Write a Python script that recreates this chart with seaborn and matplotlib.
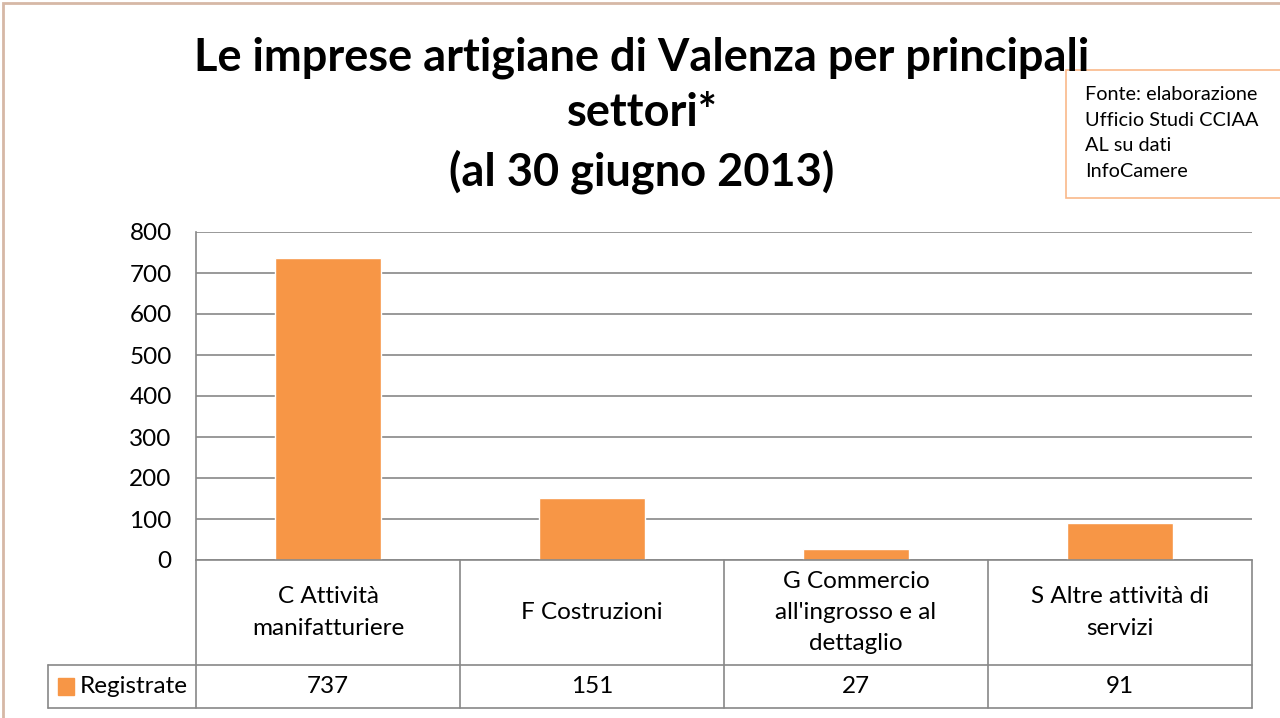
import matplotlib
matplotlib.use('Agg')
import matplotlib.pyplot as plt
import matplotlib.transforms as mtransforms
from matplotlib.patches import Rectangle
import seaborn as sns

# Dati (al 30 giugno 2013)
categorie = ["C Attività manifatturiere", "F Costruzioni",
             "G Commercio all'ingrosso e al dettaglio", "S Altre attività di servizi"]
etichette = ["C Attività\nmanifatturiere", "F Costruzioni",
             "G Commercio\nall'ingrosso e al\ndettaglio", "S Altre attività di\nservizi"]
registrate = [737, 151, 27, 91]
y_ticks = [0, 100, 200, 300, 400, 500, 600, 700, 800]
serie = "Registrate"

ARANCIO = '#F79646'
GRIGIO = '#888888'
FS = 17.5

sns.set_style('white')
plt.rcParams['font.family'] = ['Lato', 'DejaVu Sans']
plt.rcParams['text.color'] = 'black'
plt.rcParams['ytick.color'] = 'black'

fig = plt.figure(figsize=(12.8, 7.18), dpi=100)
ax = fig.add_axes([196 / 1280, 1 - 560 / 718, 1056 / 1280, 328 / 718])

sns.barplot(x=categorie, y=registrate, color=ARANCIO, width=0.4, ax=ax,
            saturation=1)

ax.set_ylim(0, 800)
ax.set_xlim(-0.5, 3.5)
ax.set_yticks(y_ticks)
ax.tick_params(axis='y', length=0, pad=17.5, labelsize=FS, labelcolor='black')
ax.tick_params(axis='x', length=0, labelbottom=False)
ax.yaxis.grid(True, color=GRIGIO, lw=1.2)
ax.set_axisbelow(True)
for s in ['top', 'right']:
    ax.spines[s].set_visible(False)
for s in ['left', 'bottom']:
    ax.spines[s].set_color(GRIGIO)
    ax.spines[s].set_linewidth(1.2)
ax.set_xlabel('')
ax.set_ylabel('')

# tabella dati sotto il grafico
tr = mtransforms.blended_transform_factory(ax.transData, ax.transAxes)
y_cat = -105 / 328
y_val = -148 / 328
x_leg = -148 / 1056
kw = dict(color=GRIGIO, lw=1.2, clip_on=False)
for xb in [-0.5, 0.5, 1.5, 2.5, 3.5]:
    ax.plot([xb, xb], [0, y_val], transform=tr, **kw)
ax.plot([x_leg, 1], [y_cat, y_cat], transform=ax.transAxes, **kw)
ax.plot([x_leg, 1], [y_val, y_val], transform=ax.transAxes, **kw)
ax.plot([x_leg, x_leg], [y_cat, y_val], transform=ax.transAxes, **kw)

for i, (lab, v) in enumerate(zip(etichette, registrate)):
    ax.text(i, y_cat / 2, lab, transform=tr, ha='center', va='center',
            fontsize=FS, linespacing=1.6)
    ax.text(i, (y_cat + y_val) / 2, str(v), transform=tr, ha='center',
            va='center', fontsize=FS)

ax.add_patch(Rectangle((-138 / 1056, (y_cat + y_val) / 2 - 0.025), 0.0155, 0.05,
                       transform=ax.transAxes, color=ARANCIO, clip_on=False))
ax.text(-116 / 1056, (y_cat + y_val) / 2, serie, transform=ax.transAxes,
        ha='left', va='center', fontsize=FS)

# titolo
fig.text(0.5015, 1 - 115 / 718,
         "Le imprese artigiane di Valenza per principali\nsettori*\n(al 30 giugno 2013)",
         ha='center', va='center', fontsize=32.5, fontweight='bold',
         linespacing=1.40)

# riquadro fonte
fig.patches.append(Rectangle((1066 / 1280, 1 - 198 / 718), 0.2, 128 / 718,
                             transform=fig.transFigure, facecolor='white',
                             edgecolor='#F9B98A', lw=1.2))
fig.text(1085 / 1280, 1 - 133 / 718,
         "Fonte: elaborazione\nUfficio Studi CCIAA\nAL su dati\nInfoCamere",
         ha='left', va='center', fontsize=14.3, linespacing=1.62)

# bordo esterno
fig.patches.append(Rectangle((3 / 1280, -0.1), 1.2, 1 - 3 / 718 + 0.1,
                             transform=fig.transFigure, fill=False,
                             edgecolor='#D6B8A6', lw=2))

fig.savefig('out.png', dpi=100)
